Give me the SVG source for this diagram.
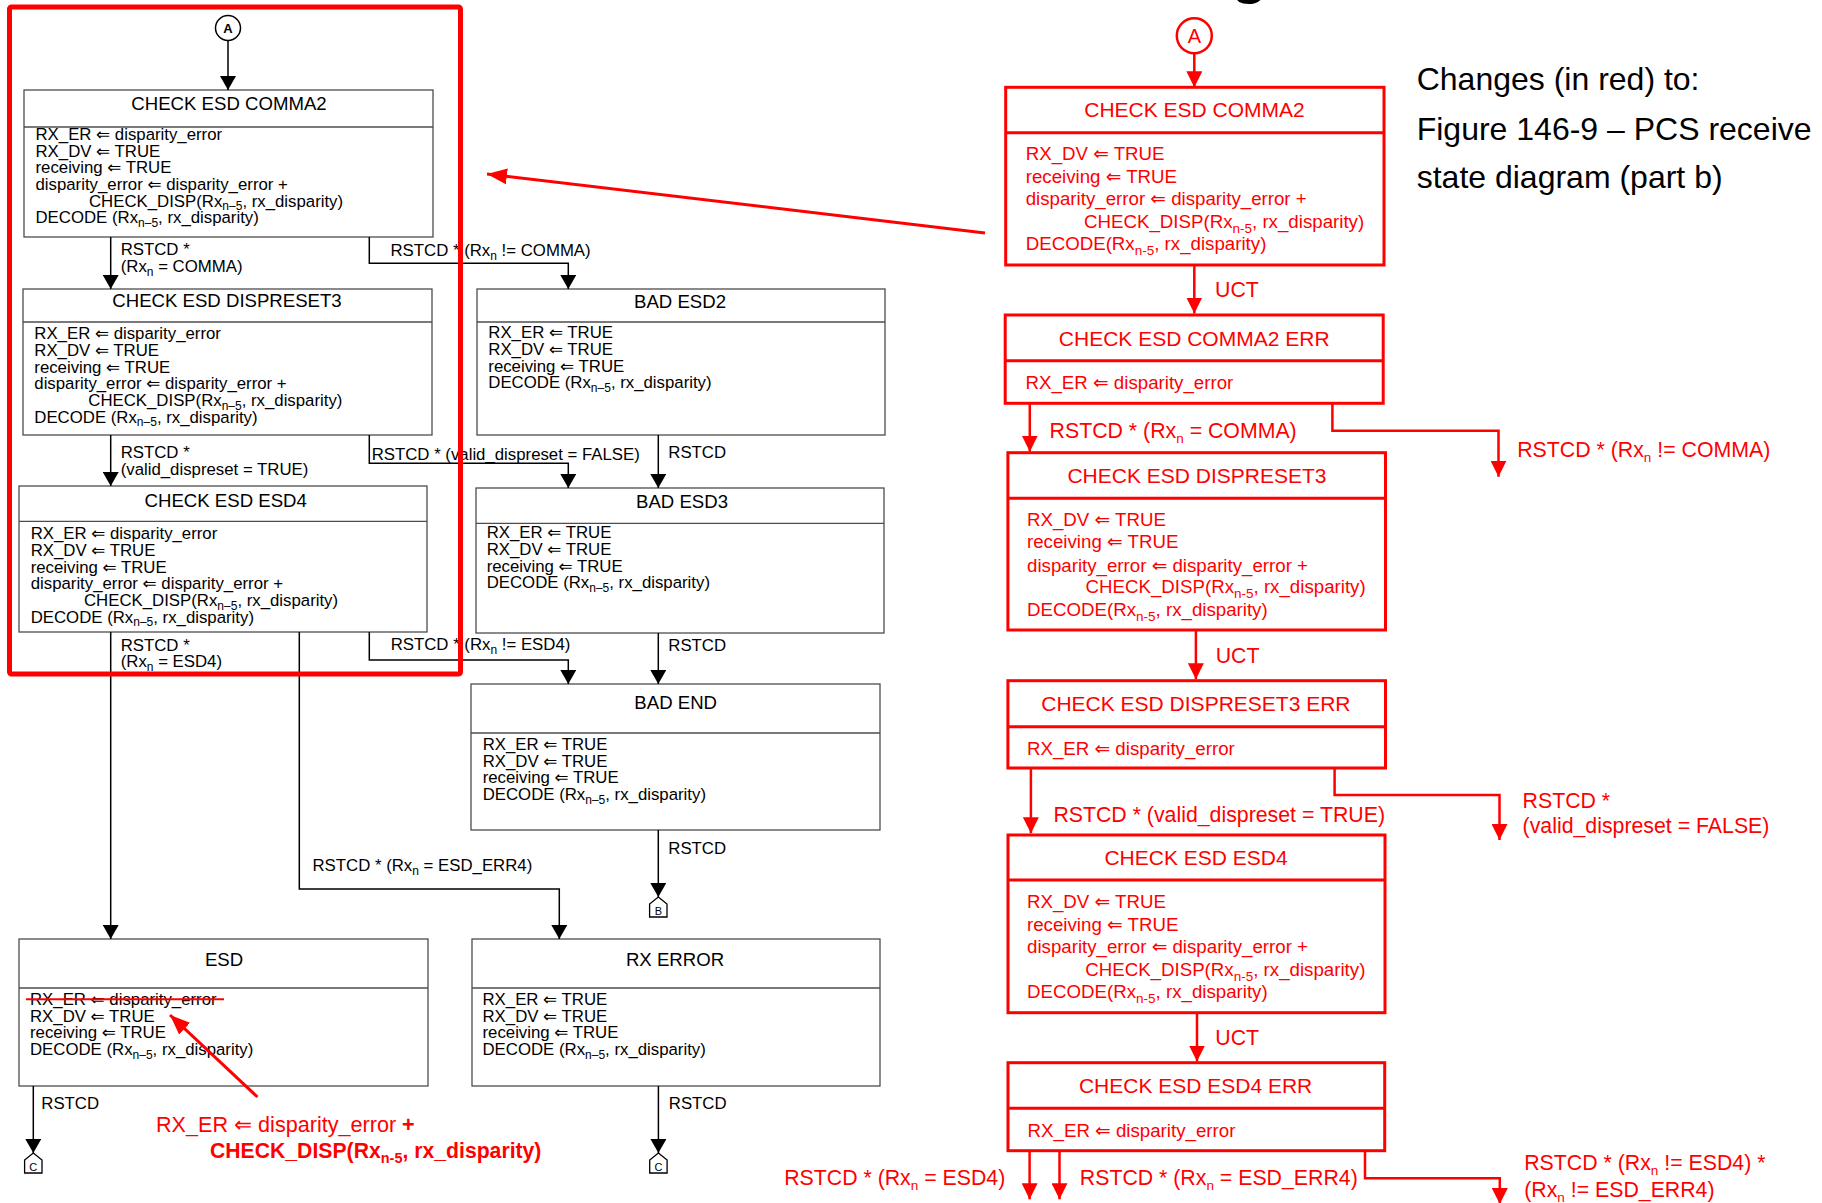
<svg xmlns="http://www.w3.org/2000/svg" width="1822" height="1203" viewBox="0 0 1822 1203">
<style>
text{font-family:"Liberation Sans","DejaVu Sans",Arial,sans-serif;}
.box{fill:#fff;stroke:#4d4d4d;stroke-width:1.3}
.dv{stroke:#4d4d4d;stroke-width:1.3}
.b{font-size:16.8px;fill:#000}
.tt{font-size:18.6px;fill:#000;text-anchor:middle}
.c{fill:none;stroke:#000;stroke-width:1.5;marker-end:url(#ah)}
.rbox{fill:#fff;stroke:#f00;stroke-width:3}
.rdv{stroke:#f00;stroke-width:3}
.rb{font-size:18.7px;fill:#f00}
.rt{font-size:21px;fill:#f00;text-anchor:middle}
.rl{font-size:21.3px;fill:#f00}
.rc{fill:none;stroke:#f00;stroke-width:2.5;marker-end:url(#ahr)}
.s{font-size:12px}
.rs{font-size:13.5px}
.note{font-size:32px;fill:#000}
</style>
<defs>
<marker id="ah" viewBox="0 0 14 16" refX="14" refY="8" markerWidth="14" markerHeight="16" markerUnits="userSpaceOnUse" orient="auto"><path d="M0,0 L14,8 L0,16 z" fill="#000"/></marker>
<marker id="ahr" viewBox="0 0 16 16" refX="16" refY="8" markerWidth="16" markerHeight="16" markerUnits="userSpaceOnUse" orient="auto"><path d="M0,0 L16,8 L0,16 z" fill="#f00"/></marker>
<marker id="ahp" viewBox="0 0 20 16" refX="20" refY="8" markerWidth="20" markerHeight="16" markerUnits="userSpaceOnUse" orient="auto"><path d="M0,0 L20,8 L0,16 z" fill="#f00"/></marker>
</defs>
<rect width="1822" height="1203" fill="#fff"/>
<text x="1231" y="-8" style="font-size:60px;font-weight:bold;fill:#000">g</text>

<!-- LEFT PANEL -->
<g id="connA">
<circle cx="228" cy="28" r="12.5" fill="#fff" stroke="#000" stroke-width="1.5"/>
<text x="228" y="33" style="font-size:13px;font-weight:bold;text-anchor:middle">A</text>
</g>

<g id="l_comma2">
<rect class="box" x="24" y="90" width="409" height="147"/>
<line class="dv" x1="24" y1="127" x2="433" y2="127"/>
<text class="tt" x="229" y="110">CHECK ESD COMMA2</text>
<text class="b" x="35.5" y="140">RX_ER ⇐ disparity_error</text>
<text class="b" x="35.5" y="156.7">RX_DV ⇐ TRUE</text>
<text class="b" x="35.5" y="173.3">receiving ⇐ TRUE</text>
<text class="b" x="35.5" y="190">disparity_error ⇐ disparity_error +</text>
<text class="b" x="89" y="206.7">CHECK_DISP(Rx<tspan class="s" dy="3.5">n–5</tspan><tspan dy="-3.5">, rx_disparity)</tspan></text>
<text class="b" x="35.5" y="223.3">DECODE (Rx<tspan class="s" dy="3.5">n–5</tspan><tspan dy="-3.5">, rx_disparity)</tspan></text>
</g>

<g id="l_dispreset3">
<rect class="box" x="23" y="289" width="409" height="146"/>
<line class="dv" x1="23" y1="322" x2="432" y2="322"/>
<text class="tt" x="227" y="307.3">CHECK ESD DISPRESET3</text>
<text class="b" x="34.3" y="339.3">RX_ER ⇐ disparity_error</text>
<text class="b" x="34.3" y="356">RX_DV ⇐ TRUE</text>
<text class="b" x="34.3" y="372.7">receiving ⇐ TRUE</text>
<text class="b" x="34.3" y="389.3">disparity_error ⇐ disparity_error +</text>
<text class="b" x="88.3" y="406">CHECK_DISP(Rx<tspan class="s" dy="3.5">n–5</tspan><tspan dy="-3.5">, rx_disparity)</tspan></text>
<text class="b" x="34.3" y="422.7">DECODE (Rx<tspan class="s" dy="3.5">n–5</tspan><tspan dy="-3.5">, rx_disparity)</tspan></text>
</g>

<g id="l_esd4">
<rect class="box" x="19" y="486" width="408" height="146"/>
<line class="dv" x1="19" y1="521.3" x2="427" y2="521.3"/>
<text class="tt" x="225.7" y="507.3">CHECK ESD ESD4</text>
<text class="b" x="30.7" y="539.3">RX_ER ⇐ disparity_error</text>
<text class="b" x="30.7" y="556">RX_DV ⇐ TRUE</text>
<text class="b" x="30.7" y="572.7">receiving ⇐ TRUE</text>
<text class="b" x="30.7" y="589.3">disparity_error ⇐ disparity_error +</text>
<text class="b" x="84" y="606">CHECK_DISP(Rx<tspan class="s" dy="3.5">n–5</tspan><tspan dy="-3.5">, rx_disparity)</tspan></text>
<text class="b" x="30.7" y="622.7">DECODE (Rx<tspan class="s" dy="3.5">n–5</tspan><tspan dy="-3.5">, rx_disparity)</tspan></text>
</g>

<g id="l_bad_esd2">
<rect class="box" x="477" y="289" width="408" height="146"/>
<line class="dv" x1="477" y1="322" x2="885" y2="322"/>
<text class="tt" x="680" y="308.3">BAD ESD2</text>
<text class="b" x="488.3" y="338.3">RX_ER ⇐ TRUE</text>
<text class="b" x="488.3" y="355">RX_DV ⇐ TRUE</text>
<text class="b" x="488.3" y="371.7">receiving ⇐ TRUE</text>
<text class="b" x="488.3" y="388.3">DECODE (Rx<tspan class="s" dy="3.5">n–5</tspan><tspan dy="-3.5">, rx_disparity)</tspan></text>
</g>

<g id="l_bad_esd3">
<rect class="box" x="476" y="488" width="408" height="145"/>
<line class="dv" x1="476" y1="523.3" x2="884" y2="523.3"/>
<text class="tt" x="682" y="508.3">BAD ESD3</text>
<text class="b" x="486.7" y="538.3">RX_ER ⇐ TRUE</text>
<text class="b" x="486.7" y="555">RX_DV ⇐ TRUE</text>
<text class="b" x="486.7" y="571.7">receiving ⇐ TRUE</text>
<text class="b" x="486.7" y="588.3">DECODE (Rx<tspan class="s" dy="3.5">n–5</tspan><tspan dy="-3.5">, rx_disparity)</tspan></text>
</g>

<g id="l_bad_end">
<rect class="box" x="471" y="684" width="409" height="146"/>
<line class="dv" x1="471" y1="733" x2="880" y2="733"/>
<text class="tt" x="675.7" y="709">BAD END</text>
<text class="b" x="482.7" y="750">RX_ER ⇐ TRUE</text>
<text class="b" x="482.7" y="766.7">RX_DV ⇐ TRUE</text>
<text class="b" x="482.7" y="783.3">receiving ⇐ TRUE</text>
<text class="b" x="482.7" y="800">DECODE (Rx<tspan class="s" dy="3.5">n–5</tspan><tspan dy="-3.5">, rx_disparity)</tspan></text>
</g>

<g id="l_esd">
<rect class="box" x="19" y="939" width="409" height="147"/>
<line class="dv" x1="19" y1="988" x2="428" y2="988"/>
<text class="tt" x="224" y="966">ESD</text>
<text class="b" x="30" y="1005">RX_ER ⇐ disparity_error</text>
<text class="b" x="30" y="1021.7">RX_DV ⇐ TRUE</text>
<text class="b" x="30" y="1038.3">receiving ⇐ TRUE</text>
<text class="b" x="30" y="1055">DECODE (Rx<tspan class="s" dy="3.5">n–5</tspan><tspan dy="-3.5">, rx_disparity)</tspan></text>
</g>

<g id="l_rx_error">
<rect class="box" x="472" y="939" width="408" height="147"/>
<line class="dv" x1="472" y1="988" x2="880" y2="988"/>
<text class="tt" x="675" y="966">RX ERROR</text>
<text class="b" x="482.5" y="1005">RX_ER ⇐ TRUE</text>
<text class="b" x="482.5" y="1021.7">RX_DV ⇐ TRUE</text>
<text class="b" x="482.5" y="1038.3">receiving ⇐ TRUE</text>
<text class="b" x="482.5" y="1055">DECODE (Rx<tspan class="s" dy="3.5">n–5</tspan><tspan dy="-3.5">, rx_disparity)</tspan></text>
</g>

<g id="connB">
<path d="M658.3,897 L667,904 V917 H649.6 V904 Z" fill="#fff" stroke="#000" stroke-width="1.3"/>
<text x="658.3" y="914.5" style="font-size:11px;text-anchor:middle">B</text>
</g>
<g id="connC1">
<path d="M33.3,1153 L42,1160 V1173 H24.6 V1160 Z" fill="#fff" stroke="#000" stroke-width="1.3"/>
<text x="33.3" y="1170.5" style="font-size:11px;text-anchor:middle">C</text>
</g>
<g id="connC2">
<path d="M658.4,1153 L667.1,1160 V1173 H649.7 V1160 Z" fill="#fff" stroke="#000" stroke-width="1.3"/>
<text x="658.4" y="1170.5" style="font-size:11px;text-anchor:middle">C</text>
</g>

<g id="l_connectors">
<path class="c" d="M228,40.5 V90"/>
<path class="c" d="M110.7,237 V289"/>
<path class="c" d="M369.3,237 V263.3 H568.3 V289"/>
<path class="c" d="M110.7,435 V486"/>
<path class="c" d="M369.3,435 V463.3 H568.3 V488"/>
<path class="c" d="M658.3,435 V488"/>
<path class="c" d="M110.7,632 V939"/>
<path class="c" d="M299.3,632 V889 H559.3 V939"/>
<path class="c" d="M369.3,632 V660 H568.3 V684"/>
<path class="c" d="M658.3,633 V684"/>
<path class="c" d="M658.3,830 V897"/>
<path class="c" d="M33.3,1086 V1153"/>
<path class="c" d="M658.4,1086 V1153"/>
<text class="b" x="120.7" y="255">RSTCD *</text>
<text class="b" x="120.7" y="272">(Rx<tspan class="s" dy="4">n</tspan><tspan dy="-4"> = COMMA)</tspan></text>
<text class="b" x="390.5" y="256">RSTCD * (Rx<tspan class="s" dy="4">n</tspan><tspan dy="-4"> != COMMA)</tspan></text>
<text class="b" x="120.7" y="458.3">RSTCD *</text>
<text class="b" x="120.7" y="475">(valid_dispreset = TRUE)</text>
<text class="b" x="371.7" y="460">RSTCD * (valid_dispreset = FALSE)</text>
<text class="b" x="668.3" y="458.3">RSTCD</text>
<text class="b" x="120.7" y="650.7">RSTCD *</text>
<text class="b" x="120.7" y="667.3">(Rx<tspan class="s" dy="4">n</tspan><tspan dy="-4"> = ESD4)</tspan></text>
<text class="b" x="390.7" y="650">RSTCD * (Rx<tspan class="s" dy="4">n</tspan><tspan dy="-4"> != ESD4)</tspan></text>
<text class="b" x="668.3" y="650.7">RSTCD</text>
<text class="b" x="312.5" y="870.7">RSTCD * (Rx<tspan class="s" dy="4">n</tspan><tspan dy="-4"> = ESD_ERR4)</tspan></text>
<text class="b" x="668.3" y="854.3">RSTCD</text>
<text class="b" x="41.3" y="1109.3">RSTCD</text>
<text class="b" x="668.8" y="1109.3">RSTCD</text>
</g>

<!-- annotations on left -->
<g id="annotations">
<rect x="9.5" y="7" width="451" height="667" rx="2" fill="none" stroke="#f00" stroke-width="5"/>
<line x1="985" y1="233" x2="487" y2="174" stroke="#f00" stroke-width="3" marker-end="url(#ahp)"/>
<line x1="26" y1="999.3" x2="224" y2="999.3" stroke="#f00" stroke-width="2"/>
<line x1="257.5" y1="1097" x2="170" y2="1015" stroke="#f00" stroke-width="3" marker-end="url(#ahp)"/>
<text x="156" y="1131.7" style="font-size:21.6px;fill:#f00">RX_ER ⇐ disparity_error <tspan font-weight="bold">+</tspan></text>
<text x="210" y="1158.3" style="font-size:21.2px;fill:#f00;font-weight:bold">CHECK_DISP(Rx<tspan font-size="14.5" dy="5">n-5</tspan><tspan dy="-5">, rx_disparity)</tspan></text>
</g>

<!-- RIGHT PANEL -->
<g id="r_connA">
<circle cx="1194.3" cy="35.7" r="17.5" fill="#fff" stroke="#f00" stroke-width="2.5"/>
<text x="1194.3" y="42.8" style="font-size:20px;fill:#f00;text-anchor:middle">A</text>
</g>

<g id="r_comma2">
<rect class="rbox" x="1005.7" y="87.3" width="378.3" height="177.7"/>
<line class="rdv" x1="1005.7" y1="132.7" x2="1384" y2="132.7"/>
<text class="rt" x="1194.5" y="117.3">CHECK ESD COMMA2</text>
<text class="rb" x="1025.7" y="160">RX_DV ⇐ TRUE</text>
<text class="rb" x="1025.7" y="182.7">receiving ⇐ TRUE</text>
<text class="rb" x="1025.7" y="205">disparity_error ⇐ disparity_error +</text>
<text class="rb" x="1084" y="228.3">CHECK_DISP(Rx<tspan class="rs" dy="5">n-5</tspan><tspan dy="-5">, rx_disparity)</tspan></text>
<text class="rb" x="1025.7" y="250">DECODE(Rx<tspan class="rs" dy="5">n-5</tspan><tspan dy="-5">, rx_disparity)</tspan></text>
</g>

<g id="r_comma2_err">
<rect class="rbox" x="1005.2" y="315" width="378" height="88.3"/>
<line class="rdv" x1="1005.2" y1="360.7" x2="1383.2" y2="360.7"/>
<text class="rt" x="1194.2" y="345.7">CHECK ESD COMMA2 ERR</text>
<text class="rb" x="1025.5" y="389">RX_ER ⇐ disparity_error</text>
</g>

<g id="r_dispreset3">
<rect class="rbox" x="1007.9" y="452.7" width="377.6" height="177.3"/>
<line class="rdv" x1="1007.9" y1="498.3" x2="1385.5" y2="498.3"/>
<text class="rt" x="1197" y="482.7">CHECK ESD DISPRESET3</text>
<text class="rb" x="1027" y="526">RX_DV ⇐ TRUE</text>
<text class="rb" x="1027" y="548.3">receiving ⇐ TRUE</text>
<text class="rb" x="1027" y="571.7">disparity_error ⇐ disparity_error +</text>
<text class="rb" x="1085.5" y="593.3">CHECK_DISP(Rx<tspan class="rs" dy="5">n-5</tspan><tspan dy="-5">, rx_disparity)</tspan></text>
<text class="rb" x="1027" y="616">DECODE(Rx<tspan class="rs" dy="5">n-5</tspan><tspan dy="-5">, rx_disparity)</tspan></text>
</g>

<g id="r_dispreset3_err">
<rect class="rbox" x="1007.9" y="680.7" width="377.6" height="87.3"/>
<line class="rdv" x1="1007.9" y1="726.7" x2="1385.5" y2="726.7"/>
<text class="rt" x="1195.9" y="710.7">CHECK ESD DISPRESET3 ERR</text>
<text class="rb" x="1027" y="755">RX_ER ⇐ disparity_error</text>
</g>

<g id="r_esd4">
<rect class="rbox" x="1008" y="835" width="377" height="177.7"/>
<line class="rdv" x1="1008" y1="880" x2="1385" y2="880"/>
<text class="rt" x="1196" y="865">CHECK ESD ESD4</text>
<text class="rb" x="1027" y="908.3">RX_DV ⇐ TRUE</text>
<text class="rb" x="1027" y="930.7">receiving ⇐ TRUE</text>
<text class="rb" x="1027" y="952.7">disparity_error ⇐ disparity_error +</text>
<text class="rb" x="1085.2" y="976">CHECK_DISP(Rx<tspan class="rs" dy="5">n-5</tspan><tspan dy="-5">, rx_disparity)</tspan></text>
<text class="rb" x="1027" y="998.3">DECODE(Rx<tspan class="rs" dy="5">n-5</tspan><tspan dy="-5">, rx_disparity)</tspan></text>
</g>

<g id="r_esd4_err">
<rect class="rbox" x="1008" y="1062.7" width="376.7" height="88"/>
<line class="rdv" x1="1008" y1="1108.3" x2="1384.7" y2="1108.3"/>
<text class="rt" x="1195.6" y="1093.3">CHECK ESD ESD4 ERR</text>
<text class="rb" x="1027.6" y="1136.7">RX_ER ⇐ disparity_error</text>
</g>

<g id="r_connectors">
<path class="rc" d="M1194.3,53.5 V87.3"/>
<path class="rc" d="M1194.3,265 V313.5"/>
<path class="rc" d="M1029.8,403.3 V451.7"/>
<path class="rc" d="M1332.4,403.3 V430.7 H1498.5 V476.7"/>
<path class="rc" d="M1195.9,630 V679.3"/>
<path class="rc" d="M1030.9,768 V833.3"/>
<path class="rc" d="M1334.6,768 V795 H1499.5 V840"/>
<path class="rc" d="M1197,1012.7 V1061.5"/>
<path class="rc" d="M1029.6,1150.7 V1199.3"/>
<path class="rc" d="M1059.5,1150.7 V1199.3"/>
<path class="rc" d="M1365,1150.7 V1178.3 H1499.8 V1204"/>
<text class="rl" x="1215" y="296.7">UCT</text>
<text class="rl" x="1049.6" y="438.3">RSTCD * (Rx<tspan class="rs" dy="5">n</tspan><tspan dy="-5"> = COMMA)</tspan></text>
<text class="rl" x="1517.2" y="457.3">RSTCD * (Rx<tspan class="rs" dy="5">n</tspan><tspan dy="-5"> != COMMA)</tspan></text>
<text class="rl" x="1215.7" y="662.7">UCT</text>
<text class="rl" x="1053.4" y="821.7">RSTCD * (valid_dispreset = TRUE)</text>
<text class="rl" x="1522.6" y="808.3">RSTCD *</text>
<text class="rl" x="1522.6" y="833.3">(valid_dispreset = FALSE)</text>
<text class="rl" x="1215.3" y="1045">UCT</text>
<text class="rl" x="1005.3" y="1185" text-anchor="end">RSTCD * (Rx<tspan class="rs" dy="5">n</tspan><tspan dy="-5"> = ESD4)</tspan></text>
<text class="rl" x="1079.8" y="1185">RSTCD * (Rx<tspan class="rs" dy="5">n</tspan><tspan dy="-5"> = ESD_ERR4)</tspan></text>
<text class="rl" x="1524.2" y="1170">RSTCD * (Rx<tspan class="rs" dy="5">n</tspan><tspan dy="-5"> != ESD4) *</tspan></text>
<text class="rl" x="1524.2" y="1196.7">(Rx<tspan class="rs" dy="5">n</tspan><tspan dy="-5"> != ESD_ERR4)</tspan></text>
</g>

<g id="note">
<text class="note" x="1416.7" y="90">Changes (in red) to:</text>
<text class="note" x="1416.7" y="140">Figure 146-9 – PCS receive</text>
<text class="note" x="1416.7" y="188.3">state diagram (part b)</text>
</g>
</svg>
